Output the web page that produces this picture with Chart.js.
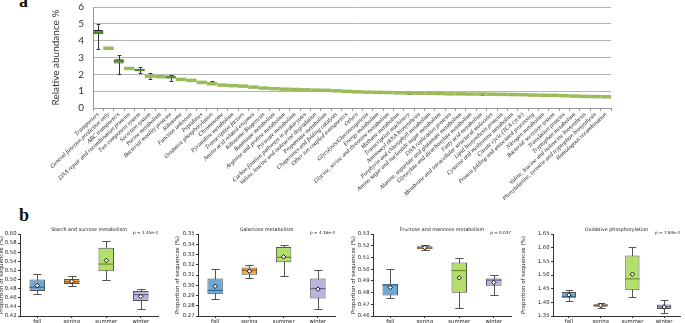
<!DOCTYPE html>
<html lang="en">
<head>
<meta charset="utf-8">
<title>Relative abundance</title>
<script src="https://cdn.jsdelivr.net/npm/chart.js@4.4.0/dist/chart.umd.min.js"></script>
<style>
  body { margin: 0; width: 685px; height: 323px; overflow: hidden; background: #fff; position: relative; }
  canvas { position: absolute; }
  .letra { position: absolute; font: bold 18px "Liberation Serif", serif; line-height: 18px; color: #111; }
</style>
</head>
<body>
<div class="letra" style="left:19px;top:-8px">a</div>
<div class="letra" style="left:19px;top:206px">b</div>
<canvas id="painelA" width="570" height="200" style="left:50px;top:0"></canvas>
<canvas id="amido" width="172" height="120" style="left:-2px;top:205px"></canvas>
<canvas id="galactose" width="166" height="120" style="left:174px;top:205px"></canvas>
<canvas id="frutose" width="166" height="120" style="left:350px;top:205px"></canvas>
<canvas id="oxidativa" width="165" height="120" style="left:520px;top:205px"></canvas>
<script>
// ---- painel a ----
const categoriasA = [
    'Transporters', 'General function prediction only', 'ABC transporters', 'DNA repair and recombination proteins',
    'Two component system', 'Secretion system', 'Purine metabolism', 'Bacterial motility proteins', 'Ribosome',
    'Function unknown', 'Peptidases', 'Oxidative phosphorylation', 'Chromosome', 'Pyrimidine metabolism',
    'Transcription factors', 'Amino acid related enzymes', 'Ribosome Biogenesis', 'Butanoate metabolism',
    'Arginine and proline metabolism', 'Pyruvate metabolism', 'Carbon fixation pathways in prokaryotes',
    'Valine, leucine and isoleucine degradation', 'Propanoate metabolism', 'Chaperones and folding catalysts',
    'Other ion coupled transporters', 'Others', 'Glycolysis/Gluconeogenesis', 'Energy metabolism',
    'Glycine, serine and threonine metabolism', 'Methane metabolism', 'Transcription machinery',
    'Aminoacyl tRNA biosynthesis', 'Porphyrin and chlorophyll metabolism', 'Amino sugar and nucleotide sugar metabolism',
    'DNA replication proteins', 'Alanine, aspartate and glutamate metabolism', 'Glyoxylate and dicarboxylate metabolism',
    'Fatty acid metabolism', 'Membrane and intracellular structural molecules', 'Lipid biosynthesis proteins',
    'Cysteine and methionine metabolism', 'Citrate cycle (TCA cycle)', 'Protein folding and associated processing',
    'Nitrogen metabolism', 'Bacterial secretion system', 'Translation proteins', 'Tryptophan metabolism',
    'Valine, leucine and isoleucine biosynthesis', 'Phenylalanine, tyrosine and tryptophan biosynthesis',
    'Homologous recombination'
];
const medianaA = [
    4.50, 3.55, 2.79, 2.35, 2.25, 1.89, 1.86, 1.82, 1.70, 1.64,
    1.52, 1.44, 1.36, 1.33, 1.30, 1.24, 1.18, 1.15, 1.12, 1.10,
    1.08, 1.06, 1.05, 1.02, 0.99, 0.96, 0.94, 0.93, 0.92, 0.90,
    0.89, 0.88, 0.87, 0.86, 0.84, 0.84, 0.83, 0.83, 0.82, 0.81,
    0.80, 0.79, 0.77, 0.76, 0.75, 0.73, 0.71, 0.69, 0.68, 0.67
];
const caixaBaixoA = [
    4.38, null, 2.65, null, 2.20, null, null, 1.76, null, null,
    null, null, null, null, null, null, null, null, null, null,
    null, null, null, null, null, null, null, null, null, null,
    null, null, null, null, null, null, null, null, null, null,
    null, null, null, null, null, null, null, null, null, null
];
const caixaAltoA = [
    4.64, null, 2.90, null, 2.33, null, null, 1.93, null, null,
    null, null, null, null, null, null, null, null, null, null,
    null, null, null, null, null, null, null, null, null, null,
    null, null, null, null, null, null, null, null, null, null,
    null, null, null, null, null, null, null, null, null, null
];
const bigodeBaixoA = [
    3.50, null, 2.00, null, 2.10, 1.75, null, 1.60, null, null,
    null, 1.44, null, null, null, null, null, 1.12, null, null,
    null, null, 1.00, null, null, null, null, 0.90, null, null,
    0.86, null, null, null, null, null, null, 0.80, null, null,
    null, null, null, 0.73, null, null, null, null, null, null
];
const bigodeAltoA = [
    5.00, null, 3.15, null, 2.42, 2.05, null, 1.97, null, null,
    null, 1.60, null, null, null, null, null, 1.20, null, null,
    null, null, 1.10, null, null, null, null, 0.97, null, null,
    0.92, null, null, null, null, null, null, 0.87, null, null,
    null, null, null, 0.80, null, null, null, null, null, null
];
const ticksA = [0, 1, 2, 3, 4, 5, 6];

// ---- painel b ----
const estacoes = ['fall', 'spring', 'summer', 'winter'];

const amidoMin = [0.469, 0.485, 0.500, 0.436];
const amidoQ1 = [0.475, 0.490, 0.518, 0.453];
const amidoMed = [0.483, 0.495, 0.534, 0.467];
const amidoQ3 = [0.500, 0.501, 0.570, 0.475];
const amidoMax = [0.512, 0.507, 0.584, 0.480];
const amidoMedia = [0.487, 0.496, 0.542, 0.463];
const ticksAmido = [0.42, 0.44, 0.46, 0.48, 0.50, 0.52, 0.54, 0.56, 0.58, 0.60];

const galactoseMin = [0.2862, 0.3070, 0.3092, 0.2771];
const galactoseQ1 = [0.2911, 0.3102, 0.3225, 0.2871];
const galactoseMed = [0.2950, 0.3147, 0.3273, 0.2968];
const galactoseQ3 = [0.3066, 0.3173, 0.3374, 0.3066];
const galactoseMax = [0.3157, 0.3202, 0.3395, 0.3150];
const galactoseMedia = [0.2989, 0.3138, 0.3277, 0.2962];
const ticksGalactose = [0.27, 0.28, 0.29, 0.30, 0.31, 0.32, 0.33, 0.34, 0.35];

const frutoseMin = [0.4750, 0.5161, 0.4671, 0.4776];
const frutoseQ1 = [0.4776, 0.5170, 0.4799, 0.4858];
const frutoseMed = [0.4864, 0.5181, 0.4988, 0.4906];
const frutoseQ3 = [0.4875, 0.5195, 0.5056, 0.4920];
const frutoseMax = [0.4997, 0.5204, 0.5096, 0.4954];
const frutoseMedia = [0.4844, 0.5184, 0.4926, 0.4886];
const ticksFrutose = [0.46, 0.47, 0.48, 0.49, 0.50, 0.51, 0.52, 0.53];

const oxidativaMin = [1.406, 1.381, 1.419, 1.362];
const oxidativaQ1 = [1.417, 1.384, 1.444, 1.376];
const oxidativaMed = [1.421, 1.389, 1.486, 1.384];
const oxidativaQ3 = [1.438, 1.393, 1.571, 1.392];
const oxidativaMax = [1.444, 1.396, 1.603, 1.407];
const oxidativaMedia = [1.427, 1.389, 1.503, 1.383];
const ticksOxidativa = [1.35, 1.40, 1.45, 1.50, 1.55, 1.60, 1.65];

const coresEstacoes = ['#6fa8d6', '#f5a742', '#b3df68', '#bab3dc'];
const coresMediana = ['#2f6a99', '#9a5a18', '#6d8f2c', '#6b6396'];

// bigodes e medianas desenhados sobre as escalas do grafico
const pluginCaixas = {
    id: 'caixas',
    beforeDatasetsDraw(chart, args, o) {
        if (!o.minimo) return;
        const { ctx, scales: { x, y } } = chart;
        const passo = x.getPixelForValue(1) - x.getPixelForValue(0);
        ctx.save();
        ctx.strokeStyle = o.corBigode;
        ctx.lineWidth = 1;
        o.minimo.forEach((mn, i) => {
            if (mn == null) return;
            const cx = Math.round(x.getPixelForValue(i)) + 0.5;
            const meia = passo * o.tampa / 2;
            const y0 = Math.round(y.getPixelForValue(mn)) + 0.5;
            const y1 = Math.round(y.getPixelForValue(o.maximo[i])) + 0.5;
            ctx.beginPath();
            ctx.moveTo(cx, y0); ctx.lineTo(cx, y1);
            ctx.moveTo(cx - meia, y0); ctx.lineTo(cx + meia, y0);
            ctx.moveTo(cx - meia, y1); ctx.lineTo(cx + meia, y1);
            ctx.stroke();
        });
        ctx.restore();
    },
    afterDatasetDraw(chart, args, o) {
        if (!o.mediana || args.meta.type !== 'bar') return;
        const { ctx, scales: { x, y } } = chart;
        const passo = x.getPixelForValue(1) - x.getPixelForValue(0);
        ctx.save();
        o.mediana.forEach((m, i) => {
            const cx = x.getPixelForValue(i);
            const meia = passo * o.largura / 2;
            const py = y.getPixelForValue(m);
            ctx.strokeStyle = o.cor(i);
            ctx.lineWidth = o.espessura(i);
            ctx.beginPath();
            ctx.moveTo(cx - meia, py); ctx.lineTo(cx + meia, py);
            ctx.stroke();
        });
        ctx.restore();
    }
};

const pluginRotulos = {
    id: 'rotulos',
    afterDraw(chart, args, o) {
        if (!o.titulo) return;
        const { ctx, chartArea } = chart;
        ctx.save();
        ctx.fillStyle = '#222';
        ctx.textBaseline = 'middle';
        ctx.font = '4.8px "DejaVu Sans"';
        ctx.textAlign = 'center';
        ctx.fillText(o.titulo, (chartArea.left + chartArea.right) / 2, chartArea.top - 4);
        ctx.font = '4.2px "DejaVu Sans"';
        ctx.textAlign = 'right';
        ctx.fillText(o.p, chartArea.right, chartArea.top - 1.5);
        ctx.restore();
    }
};

Chart.register(pluginCaixas, pluginRotulos);

new Chart(document.getElementById('painelA'), {
    type: 'bar',
    data: {
        labels: categoriasA,
        datasets: [{
            data: caixaBaixoA.map((v, i) => v == null ? null : [v, caixaAltoA[i]]),
            backgroundColor: '#9bbb59',
            borderColor: '#222',
            borderWidth: 1,
            borderSkipped: false,
            barPercentage: 0.9,
            categoryPercentage: 1
        }]
    },
    options: {
        responsive: false,
        animation: false,
        devicePixelRatio: 1,
        layout: { padding: { top: 7, right: 9, left: 0, bottom: 0 } },
        plugins: {
            legend: { display: false },
            tooltip: { enabled: false },
            caixas: {
                minimo: bigodeBaixoA,
                maximo: bigodeAltoA,
                mediana: medianaA,
                corBigode: '#333',
                tampa: 0.35,
                largura: 1,
                cor: i => caixaBaixoA[i] != null ? '#4f8a2b' : '#9bbb59',
                espessura: i => caixaBaixoA[i] != null ? 2 : 3.5
            }
        },
        scales: {
            x: {
                grid: { offset: true, drawOnChartArea: false, tickLength: 3, color: '#999' },
                border: { color: '#999' },
                ticks: {
                    autoSkip: false, minRotation: 43, maxRotation: 43, padding: 0, color: '#222',
                    font: { family: '"Liberation Serif"', style: 'italic', size: 6 }
                },
                afterFit: s => { s.height = 92; s.paddingLeft = 0; s.paddingRight = 0; }
            },
            y: {
                min: 0,
                max: 6,
                afterBuildTicks: s => { s.ticks = ticksA.map(v => ({ value: v })); },
                grid: { color: '#b4b4b4', drawTicks: false },
                border: { color: '#999' },
                ticks: { padding: 9, color: '#333', font: { family: 'Lato', size: 10 } },
                title: {
                    display: true, text: 'Relative abundance %', color: '#333', padding: 0,
                    font: { family: 'Lato', size: 10 }
                },
                afterFit: s => { s.width = 43; s.paddingTop = 0; s.paddingBottom = 0; }
            }
        }
    }
});

function graficoCaixas(id, titulo, p, minimo, q1, mediana, q3, maximo, media, ticksY, larguraY, direita) {
    new Chart(document.getElementById(id), {
        data: {
            labels: estacoes,
            datasets: [{
                type: 'bar',
                order: 2,
                data: q1.map((v, i) => [v, q3[i]]),
                backgroundColor: coresEstacoes,
                borderColor: '#555',
                borderWidth: 1,
                borderSkipped: false,
                barPercentage: 0.45,
                categoryPercentage: 1
            }, {
                type: 'line',
                order: 1,
                data: media,
                showLine: false,
                pointStyle: 'rectRot',
                pointRadius: 2.2,
                pointBackgroundColor: '#fff',
                pointBorderColor: '#111',
                pointBorderWidth: 1
            }]
        },
        options: {
            responsive: false,
            animation: false,
            devicePixelRatio: 1,
            layout: { padding: { top: 29, right: direita, left: 0, bottom: 0 } },
            plugins: {
                legend: { display: false },
                tooltip: { enabled: false },
                rotulos: { titulo: titulo, p: p },
                caixas: {
                    minimo: minimo,
                    maximo: maximo,
                    mediana: mediana,
                    corBigode: '#555',
                    tampa: 0.24,
                    largura: 0.45,
                    cor: i => coresMediana[i],
                    espessura: () => 1.2
                }
            },
            scales: {
                x: {
                    grid: { offset: false, drawOnChartArea: false, tickLength: 2, color: '#333' },
                    border: { color: '#333' },
                    ticks: { padding: 0, color: '#222', font: { family: '"DejaVu Sans"', size: 5.3 } },
                    afterFit: s => { s.height = 9; s.paddingLeft = 0; s.paddingRight = 0; }
                },
                y: {
                    min: ticksY[0],
                    max: ticksY[ticksY.length - 1],
                    afterBuildTicks: s => { s.ticks = ticksY.map(v => ({ value: v })); },
                    grid: { drawOnChartArea: false, tickLength: 2, color: '#333' },
                    border: { color: '#333' },
                    ticks: {
                        autoSkip: false, padding: 1.5, color: '#222', font: { family: '"DejaVu Sans"', size: 5.3 },
                        callback: v => v.toFixed(2)
                    },
                    title: {
                        display: true, text: 'Proportion of sequences (%)', color: '#222', padding: 0,
                        font: { family: '"DejaVu Sans"', size: 5.5 }
                    },
                    afterFit: s => { s.width = larguraY; s.paddingTop = 0; s.paddingBottom = 0; }
                }
            }
        }
    });
}

graficoCaixas('amido', 'Starch and sucrose metabolism', 'p = 1.45e-3',
    amidoMin, amidoQ1, amidoMed, amidoQ3, amidoMax, amidoMedia, ticksAmido, 22, 12);
graficoCaixas('galactose', 'Galactose metabolism', 'p = 4.16e-3',
    galactoseMin, galactoseQ1, galactoseMed, galactoseQ3, galactoseMax, galactoseMedia, ticksGalactose, 24, 3);
graficoCaixas('frutose', 'Fructose and mannose metabolism', 'p = 0.037',
    frutoseMin, frutoseQ1, frutoseMed, frutoseQ3, frutoseMax, frutoseMedia, ticksFrutose, 23, 4);
graficoCaixas('oxidativa', 'Oxidative phosphorylation', 'p = 7.84e-3',
    oxidativaMin, oxidativaQ1, oxidativaMed, oxidativaQ3, oxidativaMax, oxidativaMedia, ticksOxidativa, 33, 2);
</script>
</body>
</html>
